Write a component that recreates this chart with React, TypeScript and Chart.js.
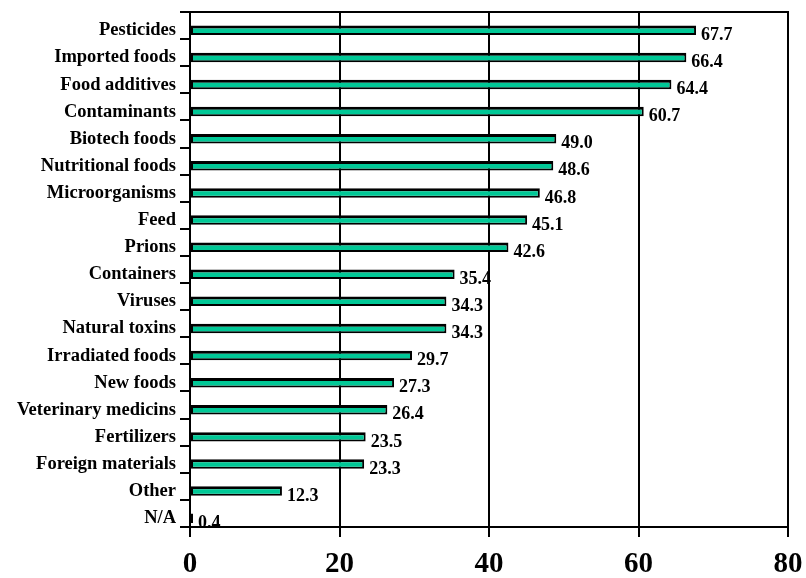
import React, { useEffect, useRef } from "react";
import { Chart, registerables } from "chart.js";

Chart.register(...registerables);

const categories = [
  "Pesticides",
  "Imported foods",
  "Food additives",
  "Contaminants",
  "Biotech foods",
  "Nutritional foods",
  "Microorganisms",
  "Feed",
  "Prions",
  "Containers",
  "Viruses",
  "Natural toxins",
  "Irradiated foods",
  "New foods",
  "Veterinary medicins",
  "Fertilizers",
  "Foreign materials",
  "Other",
  "N/A",
];

const values = [
  67.7, 66.4, 64.4, 60.7, 49.0, 48.6, 46.8, 45.1, 42.6, 35.4, 34.3, 34.3, 29.7,
  27.3, 26.4, 23.5, 23.3, 12.3, 0.4,
];

const xTicks = [0, 20, 40, 60, 80];

const FONT = "'Liberation Serif', 'Times New Roman', serif";

const valueLabels = {
  id: "valueLabels",
  afterDatasetsDraw(chart: any) {
    const ctx = chart.ctx;
    const meta = chart.getDatasetMeta(1);
    ctx.save();
    ctx.font = `bold 18px ${FONT}`;
    ctx.fillStyle = "#000";
    ctx.textAlign = "left";
    ctx.textBaseline = "middle";
    meta.data.forEach((el: any, i: number) => {
      const v = values[i];
      ctx.fillText(v.toFixed(1), el.x + 5, el.y + 5);
    });
    ctx.restore();
  },
};

export default function App() {
  const ref = useRef<HTMLCanvasElement | null>(null);

  useEffect(() => {
    document.body.style.margin = "0";
    const canvas = ref.current;
    if (!canvas) return;
    const chart = new Chart(canvas, {
      type: "bar",
      data: {
        labels: categories,
        datasets: [
          {
            data: categories.map(() => null),
            backgroundColor: "transparent",
          },
          {
            data: values,
            backgroundColor: "rgb(0,200,150)",
            borderColor: "#000",
            borderWidth: { top: 3, bottom: 2, left: 2, right: 2 },
            borderSkipped: false,
          },
        ],
      },
      options: {
        indexAxis: "y",
        animation: false,
        responsive: false,
        devicePixelRatio: 1,
        categoryPercentage: 0.7,
        barPercentage: 1,
        layout: { padding: { top: 12, right: 18, left: 0, bottom: 0 } },
        plugins: {
          legend: { display: false },
          tooltip: { enabled: false },
        },
        scales: {
          x: {
            type: "linear",
            min: 0,
            max: 80,
            afterBuildTicks: (scale: any) => {
              scale.ticks = xTicks.map((v) => ({ value: v }));
            },
            afterFit: (scale: any) => {
              scale.height = 51;
              scale.paddingLeft = 0;
              scale.paddingRight = 0;
            },
            grid: {
              color: "#000",
              lineWidth: 2,
              drawTicks: true,
              tickLength: 10,
              tickColor: "#000",
            },
            border: { display: true, color: "#000", width: 2 },
            ticks: {
              color: "#000",
              font: { family: FONT, size: 29, weight: "bold" },
              padding: 10,
              maxRotation: 0,
            },
          },
          x2: {
            type: "linear",
            position: "top",
            min: 0,
            max: 80,
            grid: { display: false, drawTicks: false },
            border: { display: true, color: "#000", width: 2 },
            ticks: { display: false },
            afterFit: (scale: any) => {
              scale.height = 0;
              scale.paddingLeft = 0;
              scale.paddingRight = 0;
            },
          },
          y: {
            type: "category",
            afterFit: (scale: any) => {
              scale.width = 190;
              scale.paddingTop = 0;
              scale.paddingBottom = 0;
            },
            grid: {
              offset: true,
              drawOnChartArea: false,
              drawTicks: true,
              tickLength: 10,
              color: "#000",
              lineWidth: 2,
            },
            border: { display: true, color: "#000", width: 2 },
            ticks: {
              color: "#000",
              font: { family: FONT, size: 18.5, weight: "bold" },
              padding: 4,
              labelOffset: 5,
              autoSkip: false,
            },
          },
        },
      },
      plugins: [valueLabels],
    } as any);
    return () => chart.destroy();
  }, []);

  return (
    <div style={{ width: 806, height: 578 }}>
      <canvas ref={ref} width={806} height={578} style={{ display: "block" }} />
    </div>
  );
}
